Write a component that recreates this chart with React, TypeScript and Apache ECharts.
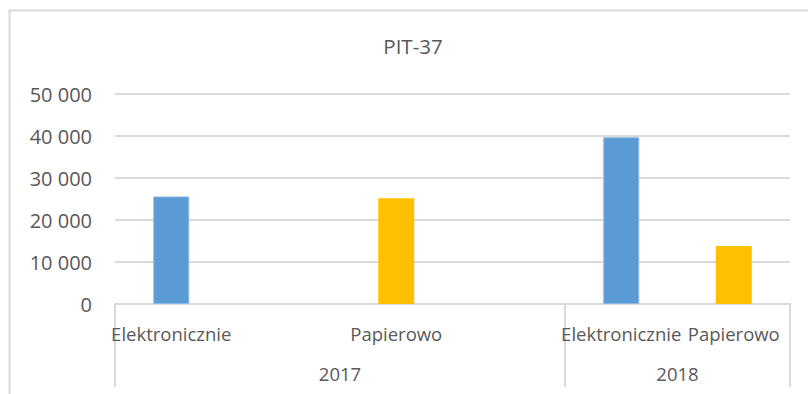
import React, { useEffect, useRef } from "react";
import * as echarts from "echarts";

const titleText = "PIT-37";
const leafCategories = ["Elektronicznie", "", "Papierowo", "", "Elektronicznie", "Papierowo"];
const yearLabels = ["", "", "2017", "", "", "2018", ""];
const yearBoundaries = [0, 4, 6];
const elektronicznie = [25600, null, null, null, 39700, null];
const papierowo = [null, null, 25200, null, null, 13800];
const yTicks = { min: 0, max: 50000, interval: 10000 };

const fmt = (v: number) => String(v).replace(/\B(?=(\d{3})+(?!\d))/g, " ");

export default function App() {
  const ref = useRef<HTMLDivElement>(null);
  useEffect(() => {
    if (!ref.current) return;
    const chart = echarts.init(ref.current, null, { renderer: "svg" });
    const textColor = "#595959";
    const lineColor = "#D9D9D9";
    const font = "Open Sans";
    chart.setOption({
      animation: false,
      backgroundColor: "#ffffff",
      title: {
        text: titleText,
        left: 413,
        top: 35,
        textAlign: "center",
        padding: 0,
        textStyle: { color: textColor, fontFamily: font, fontSize: 20.5, fontWeight: "normal", lineHeight: 22 },
      },
      graphic: [
        {
          type: "rect",
          shape: { x: 9.5, y: 10.5, width: 900, height: 500 },
          style: { fill: "none", stroke: lineColor, lineWidth: 2 },
          silent: true,
        },
      ],
      grid: { left: 115, right: 18, top: 94, height: 210, containLabel: false },
      xAxis: [
        {
          type: "category",
          data: leafCategories,
          axisLine: { show: true, lineStyle: { color: lineColor, width: 2 } },
          axisTick: { show: false },
          axisLabel: {
            interval: 0,
            margin: 19,
            color: textColor,
            fontFamily: font,
            fontSize: 18.5,
            lineHeight: 20,
          },
        },
        {
          type: "category",
          data: yearLabels,
          boundaryGap: false,
          position: "bottom",
          gridIndex: 0,
          axisLine: { show: false },
          axisTick: {
            show: true,
            length: 83,
            interval: (i: number) => yearBoundaries.indexOf(i) >= 0,
            lineStyle: { color: lineColor, width: 2 },
          },
          axisLabel: {
            interval: 0,
            margin: 59,
            color: textColor,
            fontFamily: font,
            fontSize: 18.5,
            lineHeight: 20,
          },
          splitLine: { show: false },
        },
      ],
      yAxis: {
        type: "value",
        min: yTicks.min,
        max: yTicks.max,
        interval: yTicks.interval,
        axisLine: { show: false },
        axisTick: { show: false },
        splitLine: { lineStyle: { color: lineColor, width: 2 } },
        axisLabel: {
          margin: 23,
          color: textColor,
          fontFamily: font,
          fontSize: 20,
          formatter: (v: number) => fmt(v),
        },
      },
      series: [
        {
          name: "Elektronicznie",
          type: "bar",
          data: elektronicznie,
          barWidth: 36,
          barGap: "-100%",
          itemStyle: { color: "#5B9BD5", borderColor: "#8DB8E2", borderWidth: 1 },
        },
        {
          name: "Papierowo",
          type: "bar",
          data: papierowo,
          barWidth: 36,
          barGap: "-100%",
          itemStyle: { color: "#FFC000" },
        },
      ],
    });
    return () => chart.dispose();
  }, []);
  return (
    <div
      ref={ref}
      style={{ position: "fixed", left: 0, top: 0, width: 808, height: 394 }}
    />
  );
}
